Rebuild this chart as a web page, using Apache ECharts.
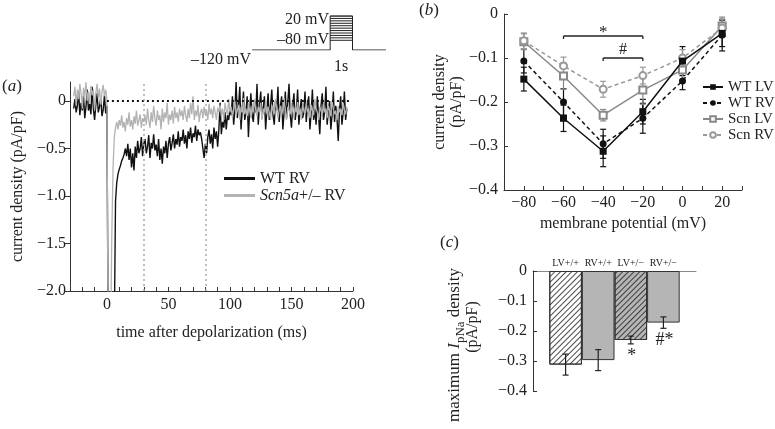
<!DOCTYPE html>
<html><head><meta charset="utf-8">
<script src="https://cdn.jsdelivr.net/npm/echarts@6/dist/echarts.min.js"></script>
<style>html,body{margin:0;padding:0;background:#fff}#c{width:775px;height:429px}</style>
</head><body><div id="c"></div>
<script>
// ---------- Panel (a): current traces (sampled every 1 ms from -27 ms) ----------
const traceStart = -27, traceStep = 1;
const wtRVTrace = [
-0.08,0.02,-0.12,-0.05,0.1,-0.15,-0.02,-0.1,0.05,-0.18,-0.06,0.12,-0.1,-0.03,-0.14,0.15,-0.08,-0.2,-0.04,0.08,-0.12,-0.06,0.03,-0.16,-0.09,0.06,-0.13,-0.05,
-2.5,-2.5,-2.5,-2.5,-2.5,-2.4,
-1.05,-0.86,-0.77,-0.72,-0.68,-0.63,-0.6,-0.56,
-0.5,-0.58,-0.45,-0.62,-0.5,-0.7,-0.55,-0.73,-0.48,-0.6,-0.42,-0.55,-0.5,-0.38,-0.58,-0.45,
-0.4,-0.55,-0.48,-0.36,-0.6,-0.44,-0.5,-0.35,-0.52,-0.46,-0.58,-0.4,-0.62,-0.5,-0.66,
-0.48,-0.55,-0.42,-0.6,-0.45,-0.38,-0.52,-0.44,-0.35,-0.5,-0.4,-0.46,-0.32,-0.48,-0.38,
-0.42,-0.3,-0.45,-0.36,-0.5,-0.32,-0.4,-0.28,-0.44,-0.34,-0.38,-0.26,-0.42,-0.3,-0.36,-0.33,-0.4,
-0.5,-0.6,-0.45,-0.55,-0.38,-0.3,-0.45,-0.35,-0.5,-0.28,-0.4,-0.32,-0.48,
-0.3,-0.02,-0.35,-0.22,-0.28,-0.12,-0.3,-0.15,-0.2,-0.08,
-0.15,0.05,-0.25,-0.1,0.2,-0.18,-0.05,0.15,-0.3,-0.08,0.1,-0.2,-0.12,0.05,-0.38,-0.1,0.08,-0.15,-0.22,0.0,-0.12,0.18,-0.25,-0.05,0.1,-0.18,-0.08,0.05,-0.3,-0.1,
0.08,-0.2,-0.05,0.12,-0.15,-0.25,0.0,-0.1,0.15,-0.22,-0.05,0.05,-0.3,-0.12,0.1,-0.18,-0.02,0.18,-0.15,-0.28,-0.05,0.08,-0.2,-0.1,0.12,-0.25,-0.08,0.02,-0.18,-0.12,
0.1,-0.22,-0.05,0.05,-0.3,-0.12,0.12,-0.2,-0.08,-0.25,0.05,-0.15,-0.35,-0.05,0.08,-0.2,-0.12,0.15,-0.25,-0.1,0.0,-0.3,-0.15,0.1,-0.22,-0.05,-0.18,-0.42,-0.1,0.05,-0.25,-0.12,0.1,-0.2,-0.08
];
const scnRVTrace = [
0.05,0.15,-0.05,0.12,0.02,0.18,0.08,-0.08,0.14,0.04,0.2,0.0,0.1,-0.02,0.16,0.06,0.12,-0.1,0.08,0.18,0.03,0.13,-0.04,0.1,0.17,0.05,0.12,0.02,
-2.5,-2.5,-2.5,
-1.4,-0.7,-0.38,-0.28,-0.22,
-0.3,-0.2,-0.26,-0.15,-0.28,-0.22,-0.32,-0.18,-0.25,-0.12,-0.27,-0.2,-0.3,-0.16,-0.24,-0.1,-0.26,-0.2,-0.14,-0.28,-0.18,-0.22,
-0.15,-0.25,-0.08,-0.2,-0.28,-0.12,-0.22,-0.05,-0.18,-0.26,-0.1,-0.2,-0.15,-0.3,-0.08,-0.22,-0.12,-0.18,-0.02,-0.25,-0.14,-0.2,-0.1,-0.24,-0.06,-0.18,-0.12,-0.22,-0.08,-0.16,
-0.1,-0.2,-0.05,-0.15,-0.22,-0.08,-0.18,-0.02,-0.14,0.05,-0.2,-0.1,-0.16,-0.04,-0.22,-0.12,-0.08,-0.18,-0.06,-0.15,-0.1,-0.2,-0.03,-0.14,-0.08,-0.18,-0.05,-0.12,-0.2,-0.07,
-0.12,-0.04,-0.16,-0.08,-0.2,-0.02,-0.1,-0.14,0.02,-0.12,-0.06,-0.18,-0.08,0.0,-0.15,-0.1,-0.04,-0.2,-0.06,-0.12,0.03,-0.14,-0.08,-0.16,-0.02,-0.1,-0.18,-0.05,-0.12,0.02,-0.1,-0.16,-0.06,-0.12,-0.02,-0.2,-0.08,-0.12,0.0,-0.14,
-0.06,-0.12,-0.2,-0.04,-0.1,-0.14,0.02,-0.08,-0.18,-0.1,-0.05,-0.15,-0.08,0.03,-0.12,-0.2,-0.06,-0.1,-0.14,-0.02,-0.1,-0.18,-0.06,-0.12,0.0,-0.15,-0.08,-0.2,-0.05,-0.1,-0.14,-0.02,-0.12,-0.08,-0.18,-0.04,-0.1,-0.15,0.02,-0.08,-0.12,-0.2,-0.06,-0.1,-0.14,-0.03,-0.12,-0.08,-0.18,-0.05,-0.1,-0.16,0.0,-0.08,-0.14,-0.1,-0.2,-0.05,-0.12,-0.08,-0.15,-0.02,-0.1,-0.14,-0.06
];
const zeroLineT = [0, 197];
const markerTimes = [30, 80];
const aXTicks = [0, 50, 100, 150, 200];
const aYTicks = [-2, -1.5, -1, -0.5, 0];

// ---------- Inset: voltage protocol ----------
const protoTimes = [0, 3.5, 4.5, 6];
const protoBaseline = -120;
const protoLevels = [-80, -70, -60, -50, -40, -30, -20, -10, 0, 10, 20];

// ---------- Panel (b): I-V relation ----------
const ivVoltages = [-80, -60, -40, -20, 0, 20];
const wtLV    = [-0.148, -0.237, -0.312, -0.222, -0.107, -0.044];
const wtLVErr = [0.027, 0.03, 0.035, 0.028, 0.033, 0.03];
const wtRV    = [-0.107, -0.2, -0.295, -0.237, -0.152, -0.048];
const wtRVErr = [0.027, 0.03, 0.033, 0.034, 0.02, 0.036];
const scnLV    = [-0.063, -0.141, -0.23, -0.173, -0.127, -0.027];
const scnLVErr = [0.018, 0.03, 0.013, 0.032, 0.023, 0.02];
const scnRV    = [-0.061, -0.118, -0.171, -0.14, -0.1, -0.032];
const scnRVErr = [0.018, 0.02, 0.018, 0.019, 0.019, 0.02];
const sigFrom = [-60, -40], sigTo = [-20, -20], sigLevel = [-0.05, -0.1], sigText = ['*', '#'];

// ---------- Panel (c): maximum density bars ----------
const barCats = ['LV+/+', 'RV+/+', 'LV+/\u2212', 'RV+/\u2212'];
const barVals = [-0.312, -0.297, -0.23, -0.172];
const barErrs = [0.035, 0.035, 0.013, 0.019];
const barSig  = ['', '', '*', '#*'];

// ---------- styling ----------
const FONT = "'Liberation Serif','Times New Roman',serif";
const TXT = '#222', AX = '#333';
function fmt(v, d) { if (Math.abs(v) < 1e-9) return '0'; return (v < 0 ? '\u2212' : '') + Math.abs(v).toFixed(d); }
const toTrace = arr => arr.map((v, i) => [traceStart + i * traceStep, v]);
const zip = (xs, ys) => xs.map((x, i) => [x, ys[i]]);

function errSeries(xIdx, xs, ms, es, color, cap) {
  return {
    type: 'custom', xAxisIndex: xIdx, yAxisIndex: xIdx, z: 3, silent: true, clip: false,
    data: xs.map((x, i) => [x, ms[i], es[i]]),
    renderItem: (p, api) => {
      const x = api.value(0), m = api.value(1), e = api.value(2);
      const lo = api.coord([x, m - e]), hi = api.coord([x, m + e]);
      const st = { stroke: color, lineWidth: 1.2 };
      return { type: 'group', children: [
        { type: 'line', shape: { x1: lo[0], y1: lo[1], x2: hi[0], y2: hi[1] }, style: st },
        { type: 'line', shape: { x1: lo[0] - cap, y1: lo[1], x2: lo[0] + cap, y2: lo[1] }, style: st },
        { type: 'line', shape: { x1: hi[0] - cap, y1: hi[1], x2: hi[0] + cap, y2: hi[1] }, style: st }
      ]};
    }
  };
}

const axisBase = (extra) => Object.assign({
  axisLine: { onZero: false, lineStyle: { color: AX, width: 1 } },
  splitLine: { show: false },
  axisLabel: { color: TXT, fontFamily: FONT, fontSize: 16 },
  nameTextStyle: { color: TXT, fontFamily: FONT, fontSize: 16 }
}, extra);

const chart = echarts.init(document.getElementById('c'), null, { renderer: 'canvas' });

const hatchDecal = { symbol: 'rect', symbolSize: 1, dashArrayX: [1, 0], dashArrayY: [0.8, 2.4], rotation: -Math.PI / 4, color: 'rgba(30,30,30,0.8)' };

const option = {
  animation: false,
  backgroundColor: '#fff',
  grid: [
    { left: 70, top: 82, width: 283, height: 209, outerBoundsMode: 'none' },
    { left: 252, top: 16, width: 134, height: 34, outerBoundsMode: 'none' },
    { left: 504, top: 14, width: 238, height: 176, outerBoundsMode: 'none' },
    { left: 533, top: 271, width: 163, height: 120, outerBoundsMode: 'none' }
  ],
  xAxis: [
    axisBase({ gridIndex: 0, type: 'value', min: -30, max: 200, interval: 10,
      axisTick: { inside: true, length: 4, lineStyle: { color: AX } },
      axisLabel: { color: TXT, fontFamily: FONT, fontSize: 16, margin: 6, customValues: aXTicks, formatter: v => (v % 50 === 0 ? String(v) : '') },
      name: 'time after depolarization (ms)', nameLocation: 'middle', nameGap: 34 }),
    { gridIndex: 1, type: 'value', min: 0, max: 6, show: false },
    axisBase({ gridIndex: 2, type: 'value', min: -90, max: 30, interval: 10,
      axisTick: { inside: true, length: 4, lineStyle: { color: AX } },
      axisLabel: { color: TXT, fontFamily: FONT, fontSize: 16, margin: 5, formatter: v => (v % 20 === 0 ? fmt(v, 0) : '') },
      name: 'membrane potential (mV)', nameLocation: 'middle', nameGap: 26 }),
    axisBase({ gridIndex: 3, type: 'value', min: 0, max: 5, interval: 1, position: 'top',
      axisLine: { onZero: false, lineStyle: { color: '#888', width: 1 } },
      axisTick: { show: false },
      axisLabel: { color: TXT, fontFamily: FONT, fontSize: 10, margin: 3, formatter: v => barCats[v - 1] || '' } })
  ],
  yAxis: [
    axisBase({ gridIndex: 0, type: 'value', min: -2, max: 0.2, interval: 0.5,
      axisTick: { inside: false, length: 5, customValues: aYTicks, lineStyle: { color: AX } },
      axisLabel: { color: TXT, fontFamily: FONT, fontSize: 16, margin: 4, customValues: aYTicks, formatter: v => (v > 0.1 ? '' : fmt(v, v === 0 ? 0 : 1)) },
      name: 'current density (pA/pF)', nameLocation: 'middle', nameRotate: 90, nameGap: 44 }),
    { gridIndex: 1, type: 'value', min: -120, max: 20, show: false },
    axisBase({ gridIndex: 2, type: 'value', min: -0.4, max: 0, interval: 0.1,
      axisTick: { inside: true, length: 4, lineStyle: { color: AX } },
      axisLabel: { color: TXT, fontFamily: FONT, fontSize: 16, margin: 6, formatter: v => fmt(v, 1) },
      name: 'current density\n(pA/pF)', nameLocation: 'middle', nameRotate: 90, nameGap: 31,
      nameTextStyle: { color: TXT, fontFamily: FONT, fontSize: 16, lineHeight: 17 } }),
    axisBase({ gridIndex: 3, type: 'value', min: -0.4, max: 0, interval: 0.1,
      axisTick: { inside: true, length: 4, lineStyle: { color: AX } },
      axisLabel: { color: TXT, fontFamily: FONT, fontSize: 16, margin: 6, formatter: v => fmt(v, 1) } })
  ],
  legend: [
    { data: [{ name: 'a:WT RV', icon: 'rect' }, { name: 'a:Scn5a+/\u2013 RV', icon: 'rect' }], orient: 'vertical', left: 224, top: 170, padding: 0,
      itemWidth: 31, itemHeight: 3, itemGap: 0, selectedMode: false,
      formatter: n => n === 'a:WT RV' ? '{n|WT RV}' : '{i|Scn5a}{n|+/\u2013 RV}',
      textStyle: { color: TXT, fontFamily: FONT, fontSize: 16, lineHeight: 17,
        rich: { n: { fontFamily: FONT, fontSize: 16, color: TXT }, i: { fontFamily: FONT, fontSize: 16, fontStyle: 'italic', color: TXT } } } },
    { data: ['WT LV', 'WT RV', 'Scn LV', 'Scn RV'], orient: 'vertical', left: 702, top: 79, padding: 0, itemWidth: 20, itemHeight: 7, itemGap: 0,
      selectedMode: false, textStyle: { color: TXT, fontFamily: FONT, fontSize: 15, lineHeight: 16 } }
  ],
  series: [
    { type: 'line', xAxisIndex: 0, yAxisIndex: 0, data: [], z: 1, silent: true,
      markLine: { silent: true, symbol: 'none', label: { show: false },
        lineStyle: { color: '#aaa', type: [2, 3], width: 1.5 },
        data: markerTimes.map(t => ({ xAxis: t })) } },
    { name: 'a:WT RV', type: 'line', xAxisIndex: 0, yAxisIndex: 0, data: toTrace(wtRVTrace), showSymbol: false, symbol: 'none',
      clip: true, z: 2, lineStyle: { color: '#111', width: 1.4 }, itemStyle: { color: '#111' } },
    { name: 'a:Scn5a+/\u2013 RV', type: 'line', xAxisIndex: 0, yAxisIndex: 0, data: toTrace(scnRVTrace), showSymbol: false, symbol: 'none',
      clip: true, z: 3, lineStyle: { color: '#b3b3b3', width: 1.3 }, itemStyle: { color: '#b3b3b3' } },
    { type: 'line', xAxisIndex: 0, yAxisIndex: 0, data: zeroLineT.map(t => [t, 0]), symbol: 'none', z: 4, silent: true,
      lineStyle: { color: '#111', width: 2, type: [2, 3] } },

    { type: 'line', xAxisIndex: 1, yAxisIndex: 1, symbol: 'none', silent: true, z: 2,
      lineStyle: { color: '#222', width: 1 },
      data: [[protoTimes[0], protoBaseline], [protoTimes[1], protoBaseline], [protoTimes[1], protoLevels[protoLevels.length - 1]],
             [protoTimes[2], protoLevels[protoLevels.length - 1]], [protoTimes[2], protoBaseline], [protoTimes[3], protoBaseline]] },
    { type: 'custom', xAxisIndex: 1, yAxisIndex: 1, silent: true, z: 2, data: protoLevels.map(l => [l]),
      encode: { y: 0 },
      renderItem: (p, api) => {
        const l = api.value(0);
        const a = api.coord([protoTimes[1], l]), b = api.coord([protoTimes[2], l]);
        return { type: 'line', shape: { x1: a[0], y1: a[1], x2: b[0], y2: b[1] }, style: { stroke: '#222', lineWidth: 1 } };
      } },

    errSeries(2, ivVoltages, wtLV, wtLVErr, '#111', 3),
    errSeries(2, ivVoltages, wtRV, wtRVErr, '#111', 3),
    errSeries(2, ivVoltages, scnLV, scnLVErr, '#888', 3),
    errSeries(2, ivVoltages, scnRV, scnRVErr, '#999', 3),
    { name: 'WT LV', type: 'line', xAxisIndex: 2, yAxisIndex: 2, data: zip(ivVoltages, wtLV), symbol: 'rect', symbolSize: 7, z: 5,
      lineStyle: { color: '#111', width: 1.5 }, itemStyle: { color: '#111' } },
    { name: 'WT RV', type: 'line', xAxisIndex: 2, yAxisIndex: 2, data: zip(ivVoltages, wtRV), symbol: 'circle', symbolSize: 7, z: 5,
      lineStyle: { color: '#111', width: 1.5, type: [4, 3] }, itemStyle: { color: '#111' } },
    { name: 'Scn LV', type: 'line', xAxisIndex: 2, yAxisIndex: 2, data: zip(ivVoltages, scnLV), symbol: 'emptyRect', symbolSize: 7, z: 4,
      lineStyle: { color: '#888', width: 1.5 }, itemStyle: { color: '#888', borderWidth: 1.2 } },
    { name: 'Scn RV', type: 'line', xAxisIndex: 2, yAxisIndex: 2, data: zip(ivVoltages, scnRV), symbol: 'emptyCircle', symbolSize: 7, z: 4,
      lineStyle: { color: '#999', width: 1.5, type: [4, 3] }, itemStyle: { color: '#999', borderWidth: 1.2 } },
    { type: 'custom', xAxisIndex: 2, yAxisIndex: 2, silent: true, z: 5, clip: false,
      data: sigFrom.map((x, i) => [x, sigLevel[i]]),
      renderItem: (p, api) => {
        const i = p.dataIndex;
        const a = api.coord([sigFrom[i], sigLevel[i]]), b = api.coord([sigTo[i], sigLevel[i]]);
        const st = { stroke: '#222', lineWidth: 1.3 };
        const star = sigText[i] === '*';
        return { type: 'group', children: [
          { type: 'line', shape: { x1: a[0], y1: a[1], x2: b[0], y2: b[1] }, style: st },
          { type: 'line', shape: { x1: a[0], y1: a[1], x2: a[0], y2: a[1] + 3 }, style: st },
          { type: 'line', shape: { x1: b[0], y1: b[1], x2: b[0], y2: b[1] + 3 }, style: st },
          { type: 'text', x: (a[0] + b[0]) / 2, y: a[1] - (star ? 3 : 8),
            style: { text: sigText[i], fill: '#222', fontFamily: FONT, fontSize: star ? 17 : 16, align: 'center', verticalAlign: 'middle' } }
        ]};
      } },

    { type: 'bar', xAxisIndex: 3, yAxisIndex: 3, barWidth: 32.6, z: 2,
      data: barVals.map((v, i) => ({ value: [i + 1, v],
        itemStyle: {
          color: i === 0 ? '#ffffff' : '#b5b5b5',
          borderColor: '#333', borderWidth: 1,
          decal: (i === 0 || i === 2) ? hatchDecal : null
        } })) },
    errSeries(3, barVals.map((v, i) => i + 1), barVals, barErrs, '#222', 3),
    { type: 'custom', xAxisIndex: 3, yAxisIndex: 3, silent: true, z: 5, clip: false,
      data: barVals.map((v, i) => [i + 1, v - barErrs[i]]),
      renderItem: (p, api) => {
        const i = p.dataIndex;
        if (!barSig[i]) return null;
        const c = api.coord([i + 1, barVals[i] - barErrs[i]]);
        return { type: 'text', x: c[0] + 1, y: c[1] + 3,
          style: { text: barSig[i], fill: '#222', fontFamily: FONT, fontSize: 18, align: 'center', verticalAlign: 'top' } };
      } }
  ],
  graphic: [
    { type: 'text', x: 2, y: 87, style: { text: '{n|(}{i|a}{n|)}', verticalAlign: 'middle',
      rich: { n: { fontFamily: FONT, fontSize: 17, fill: TXT }, i: { fontFamily: FONT, fontSize: 17, fontStyle: 'italic', fill: TXT } } } },
    { type: 'text', x: 419, y: 11, style: { text: '{n|(}{i|b}{n|)}', verticalAlign: 'middle',
      rich: { n: { fontFamily: FONT, fontSize: 17, fill: TXT }, i: { fontFamily: FONT, fontSize: 17, fontStyle: 'italic', fill: TXT } } } },
    { type: 'text', x: 440, y: 243, style: { text: '{n|(}{i|c}{n|)}', verticalAlign: 'middle',
      rich: { n: { fontFamily: FONT, fontSize: 17, fill: TXT }, i: { fontFamily: FONT, fontSize: 17, fontStyle: 'italic', fill: TXT } } } },
    { type: 'text', x: 329, y: 20, style: { text: '20 mV', fill: TXT, fontFamily: FONT, fontSize: 16, align: 'right', verticalAlign: 'middle' } },
    { type: 'text', x: 329, y: 40, style: { text: '\u201380 mV', fill: TXT, fontFamily: FONT, fontSize: 16, align: 'right', verticalAlign: 'middle' } },
    { type: 'text', x: 251, y: 60, style: { text: '\u2013120 mV', fill: TXT, fontFamily: FONT, fontSize: 16, align: 'right', verticalAlign: 'middle' } },
    { type: 'text', x: 341, y: 67, style: { text: '1s', fill: TXT, fontFamily: FONT, fontSize: 16, align: 'center', verticalAlign: 'middle' } },
    { type: 'text', x: 455, y: 345, rotation: Math.PI / 2,
      style: { text: '{n|maximum }{i|I}{s|pNa}{n| density}', align: 'center', verticalAlign: 'middle',
        rich: { n: { fontFamily: FONT, fontSize: 17, fill: TXT, lineHeight: 24, verticalAlign: 'middle' },
                i: { fontFamily: FONT, fontSize: 17, fontStyle: 'italic', fill: TXT, lineHeight: 24, verticalAlign: 'middle' },
                s: { fontFamily: FONT, fontSize: 13, fill: TXT, lineHeight: 13, verticalAlign: 'bottom' } } } },
    { type: 'text', x: 473, y: 327, rotation: Math.PI / 2,
      style: { text: '(pA/pF)', fill: TXT, fontFamily: FONT, fontSize: 16, align: 'center', verticalAlign: 'middle' } }
  ]
};
chart.setOption(option);
</script></body></html>
